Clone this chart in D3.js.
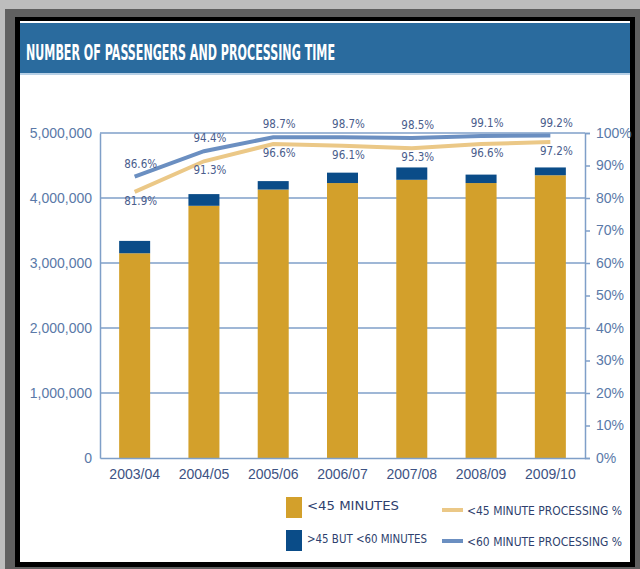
<!DOCTYPE html>
<html>
<head>
<meta charset="utf-8">
<script src="https://cdn.jsdelivr.net/npm/d3@7"></script>
<style>
  html, body { margin: 0; padding: 0; background: #bdbdbd; }
  svg { display: block; }
</style>
</head>
<body>
<script>
// data
const years = ["2003/04", "2004/05", "2005/06", "2006/07", "2007/08", "2008/09", "2009/10"];
const under45 = [3150000, 3880000, 4130000, 4230000, 4280000, 4230000, 4350000];
const between45and60 = [190000, 180000, 130000, 160000, 190000, 130000, 120000];
const pct45 = [81.9, 91.3, 96.6, 96.1, 95.3, 96.6, 97.2];
const pct60 = [86.6, 94.4, 98.7, 98.7, 98.5, 99.1, 99.2];
const leftTicks = [0, 1000000, 2000000, 3000000, 4000000, 5000000];
const rightTicks = [0, 10, 20, 30, 40, 50, 60, 70, 80, 90, 100];

const W = 640, H = 569;
const gold = "#d3a02b", navy = "#0a4c88";
const lineGold = "#ebc887", lineBlue = "#6b8fc1";
const gridCol = "#7f9fc8";
const numFont = "'Liberation Sans', Arial, sans-serif";
const narrowFont = "'DejaVu Sans Condensed', 'Liberation Sans', sans-serif";

const svg = d3.select("body").append("svg")
  .attr("width", W)
  .attr("height", H);

// frame
svg.append("rect").attr("x", 5).attr("y", 9).attr("width", W - 5).attr("height", H - 9).attr("fill", "#606060");
svg.append("rect").attr("x", 15).attr("y", 17).attr("width", 620).attr("height", 550).attr("fill", "#000");
svg.append("rect").attr("x", 20).attr("y", 21).attr("width", 610).attr("height", 541).attr("fill", "#fff");

// header
svg.append("rect").attr("x", 20).attr("y", 23).attr("width", 610).attr("height", 50).attr("fill", "#2a6b9e");
svg.append("rect").attr("x", 20).attr("y", 73).attr("width", 610).attr("height", 2).attr("fill", "#b7d0e6");
svg.append("text")
  .attr("x", 26).attr("y", 60)
  .attr("fill", "#fff")
  .attr("font-family", narrowFont)
  .attr("font-weight", "bold")
  .attr("font-size", 21)
  .attr("textLength", 309)
  .attr("lengthAdjust", "spacingAndGlyphs")
  .text("NUMBER OF PASSENGERS AND PROCESSING TIME");

// scales
const x0 = 100, x1 = 585, yTop = 133, yBot = 458;
const x = d3.scaleBand().domain(years).range([x0, x1]).padding(0);
const barW = 31;
const yL = d3.scaleLinear().domain([0, 5000000]).range([yBot, yTop]);
const yR = d3.scaleLinear().domain([0, 100]).range([yBot, yTop]);
const cx = d => x(d) + x.bandwidth() / 2;

// gridlines
svg.append("g").selectAll("line")
  .data(leftTicks.slice(1))
  .join("line")
  .attr("x1", x0).attr("x2", x1)
  .attr("y1", d => yL(d)).attr("y2", d => yL(d))
  .attr("stroke", gridCol).attr("stroke-width", 1.5);

// left axis
const leftAxis = svg.append("g")
  .attr("transform", `translate(${x0},0)`)
  .call(d3.axisLeft(yL).tickValues(leftTicks).tickSize(0).tickPadding(8)
    .tickFormat(d3.format(",")));
leftAxis.select(".domain").attr("stroke", gridCol).attr("stroke-width", 1.5);
leftAxis.selectAll("text")
  .attr("font-family", numFont).attr("font-size", 14).attr("fill", "#5a79a8");

// right axis
const rightAxis = svg.append("g")
  .attr("transform", `translate(${x1},0)`)
  .call(d3.axisRight(yR).tickValues(rightTicks).tickSize(5).tickPadding(6)
    .tickFormat(d => d + "%"));
rightAxis.select(".domain").attr("stroke", gridCol).attr("stroke-width", 1.5);
rightAxis.selectAll(".tick line").attr("stroke", gridCol).attr("stroke-width", 1.5);
rightAxis.selectAll("text")
  .attr("font-family", numFont).attr("font-size", 14).attr("fill", "#5a79a8");

// bars
const bars = svg.append("g");
bars.selectAll(".low")
  .data(years)
  .join("rect")
  .attr("class", "low")
  .attr("x", d => cx(d) - barW / 2)
  .attr("width", barW)
  .attr("y", (d, i) => yL(under45[i]))
  .attr("height", (d, i) => yBot - yL(under45[i]))
  .attr("fill", gold);
bars.selectAll(".mid")
  .data(years)
  .join("rect")
  .attr("class", "mid")
  .attr("x", d => cx(d) - barW / 2)
  .attr("width", barW)
  .attr("y", (d, i) => yL(under45[i] + between45and60[i]))
  .attr("height", (d, i) => yL(under45[i]) - yL(under45[i] + between45and60[i]))
  .attr("fill", navy);

// bottom axis
const bottomAxis = svg.append("g")
  .attr("transform", `translate(0,${yBot})`)
  .call(d3.axisBottom(x).tickSize(0).tickPadding(11));
bottomAxis.select(".domain").attr("stroke", gridCol).attr("stroke-width", 1.5);
bottomAxis.selectAll("text")
  .attr("font-family", numFont).attr("font-size", 14).attr("fill", "#3d5283");

// lines
const line = d3.line().x(d => cx(d.year)).y(d => yR(d.v));
svg.append("path")
  .datum(years.map((y, i) => ({ year: y, v: pct45[i] })))
  .attr("d", line)
  .attr("fill", "none").attr("stroke", lineGold).attr("stroke-width", 4);
svg.append("path")
  .datum(years.map((y, i) => ({ year: y, v: pct60[i] })))
  .attr("d", line)
  .attr("fill", "none").attr("stroke", lineBlue).attr("stroke-width", 4);

// value labels
svg.append("g").selectAll("text")
  .data(years)
  .join("text")
  .attr("x", d => cx(d) + 6)
  .attr("y", (d, i) => yR(pct60[i]) - 9)
  .attr("text-anchor", "middle")
  .attr("font-family", narrowFont).attr("font-size", 11.5).attr("fill", "#4a5d8c")
  .text((d, i) => pct60[i].toFixed(1) + "%");
svg.append("g").selectAll("text")
  .data(years)
  .join("text")
  .attr("x", d => cx(d) + 6)
  .attr("y", (d, i) => yR(pct45[i]) + 13)
  .attr("text-anchor", "middle")
  .attr("font-family", narrowFont).attr("font-size", 11.5).attr("fill", "#4a5d8c")
  .text((d, i) => pct45[i].toFixed(1) + "%");

// legend
const legend = svg.append("g");
const boxes = [
  { label: "<45 MINUTES", color: gold, y: 497, len: 92 },
  { label: ">45 BUT <60 MINUTES", color: navy, y: 530, len: 120 }
];
boxes.forEach(b => {
  legend.append("rect").attr("x", 286).attr("y", b.y).attr("width", 16).attr("height", 21).attr("fill", b.color);
  legend.append("text")
    .attr("x", 307).attr("y", b.y + 13)
    .attr("font-family", narrowFont).attr("font-size", 13).attr("fill", "#2e3f6e")
    .attr("textLength", b.len).attr("lengthAdjust", "spacingAndGlyphs")
    .text(b.label);
});
const lineKeys = [
  { label: "<45 MINUTE PROCESSING %", color: lineGold, y: 510 },
  { label: "<60 MINUTE PROCESSING %", color: lineBlue, y: 541 }
];
lineKeys.forEach(k => {
  legend.append("line")
    .attr("x1", 442).attr("x2", 463).attr("y1", k.y).attr("y2", k.y)
    .attr("stroke", k.color).attr("stroke-width", 4);
  legend.append("text")
    .attr("x", 467).attr("y", k.y + 5)
    .attr("font-family", narrowFont).attr("font-size", 12).attr("fill", "#2e3f6e")
    .attr("textLength", 155).attr("lengthAdjust", "spacingAndGlyphs")
    .text(k.label);
});
</script>
</body>
</html>
